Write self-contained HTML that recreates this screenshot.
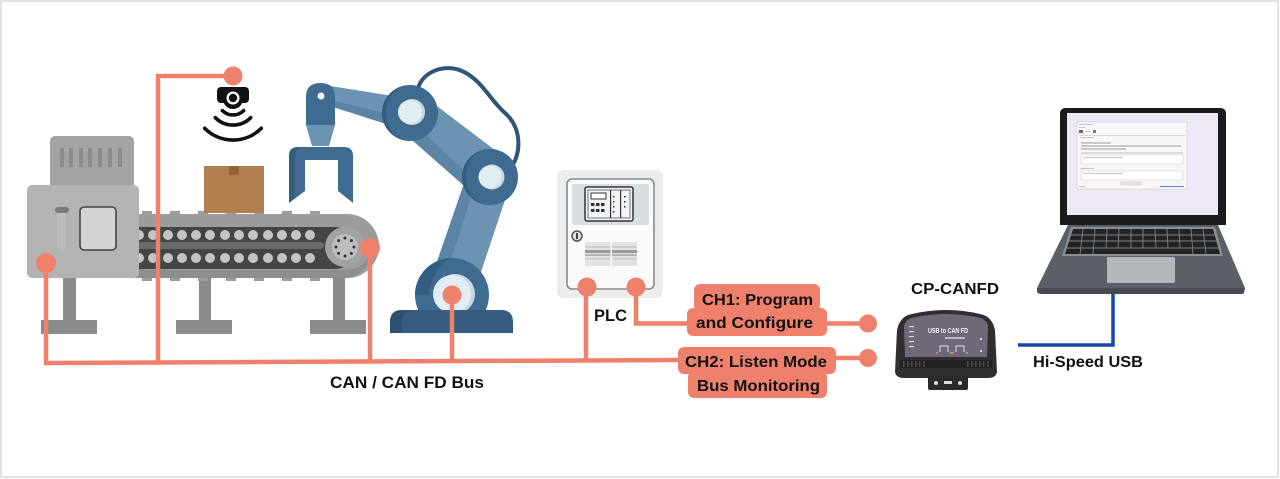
<!DOCTYPE html>
<html>
<head>
<meta charset="utf-8">
<style>
  html,body{margin:0;padding:0;background:#fff;}
  body{width:1280px;height:479px;overflow:hidden;}
  svg{display:block;}
  text{font-family:"Liberation Sans",sans-serif;font-weight:bold;fill:#111;}
</style>
</head>
<body>
<svg width="1280" height="479" viewBox="0 0 1280 479" xmlns="http://www.w3.org/2000/svg">
  <!-- frame -->
  <rect x="1" y="1" width="1277" height="476" fill="#fff" stroke="#e2e2e2" stroke-width="2"/>

  <!-- ============ CONVEYOR MACHINE ============ -->
  <!-- legs -->
  <g fill="#8b8b8b">
    <rect x="63" y="276" width="13" height="46"/>
    <rect x="41" y="320" width="56" height="14"/>
    <rect x="199" y="276" width="12" height="46"/>
    <rect x="176" y="320" width="56" height="14"/>
    <rect x="333" y="276" width="12" height="46"/>
    <rect x="310" y="320" width="56" height="14"/>
  </g>
  <!-- top vent box -->
  <rect x="50" y="136" width="84" height="55" rx="5" fill="#a3a3a3"/>
  <g fill="#8c8c8c">
    <rect x="60" y="148" width="4" height="19"/>
    <rect x="69" y="148" width="4" height="19"/>
    <rect x="79" y="148" width="4" height="19"/>
    <rect x="88" y="148" width="4" height="19"/>
    <rect x="98" y="148" width="4" height="19"/>
    <rect x="108" y="148" width="4" height="19"/>
    <rect x="118" y="148" width="4" height="19"/>
  </g>
  <!-- belt -->
  <path d="M136 214 L347 214 A32 32 0 0 1 347 278 L136 278 Z" fill="#9c9c9c"/>
  <g fill="#9c9c9c">
    <rect x="142" y="211" width="10" height="4"/><rect x="170" y="211" width="10" height="4"/>
    <rect x="198" y="211" width="10" height="4"/><rect x="226" y="211" width="10" height="4"/>
    <rect x="254" y="211" width="10" height="4"/><rect x="282" y="211" width="10" height="4"/>
    <rect x="310" y="211" width="10" height="4"/>
    <rect x="142" y="277" width="10" height="4"/><rect x="170" y="277" width="10" height="4"/>
    <rect x="198" y="277" width="10" height="4"/><rect x="226" y="277" width="10" height="4"/>
    <rect x="254" y="277" width="10" height="4"/><rect x="282" y="277" width="10" height="4"/>
    <rect x="310" y="277" width="10" height="4"/>
  </g>
  <path d="M136 270 L347 270 A24 24 0 0 0 371 246 L371 250 A28 28 0 0 1 347 278 L136 278 Z" fill="#8e8e8e"/>
  <path d="M136 227 L335 227 A21 21 0 0 1 335 269 L136 269 Z" fill="#454545"/>
  <rect x="136" y="242" width="188" height="7" rx="3.5" fill="#6b6b6b"/>
  <g fill="#c4c4c4">
    <circle cx="139" cy="235" r="5"/><circle cx="153" cy="235" r="5"/><circle cx="168" cy="235" r="5"/>
    <circle cx="182" cy="235" r="5"/><circle cx="196" cy="235" r="5"/><circle cx="210" cy="235" r="5"/>
    <circle cx="225" cy="235" r="5"/><circle cx="239" cy="235" r="5"/><circle cx="253" cy="235" r="5"/>
    <circle cx="268" cy="235" r="5"/><circle cx="282" cy="235" r="5"/><circle cx="296" cy="235" r="5"/>
    <circle cx="310" cy="235" r="5"/>
    <circle cx="139" cy="258" r="5"/><circle cx="153" cy="258" r="5"/><circle cx="168" cy="258" r="5"/>
    <circle cx="182" cy="258" r="5"/><circle cx="196" cy="258" r="5"/><circle cx="210" cy="258" r="5"/>
    <circle cx="225" cy="258" r="5"/><circle cx="239" cy="258" r="5"/><circle cx="253" cy="258" r="5"/>
    <circle cx="268" cy="258" r="5"/><circle cx="282" cy="258" r="5"/><circle cx="296" cy="258" r="5"/>
    <circle cx="310" cy="258" r="5"/>
  </g>
  <circle cx="345" cy="247" r="20" fill="#a2a2a2"/>
  <circle cx="345" cy="247" r="13" fill="#bdbdbd"/>
  <g fill="#333">
    <circle cx="345" cy="238" r="1.5"/><circle cx="351.4" cy="240.6" r="1.5"/><circle cx="354" cy="247" r="1.5"/>
    <circle cx="351.4" cy="253.4" r="1.5"/><circle cx="345" cy="256" r="1.5"/><circle cx="338.6" cy="253.4" r="1.5"/>
    <circle cx="336" cy="247" r="1.5"/><circle cx="338.6" cy="240.6" r="1.5"/>
  </g>
  <!-- main box -->
  <rect x="27" y="185" width="112" height="93" rx="5" fill="#b3b3b3"/>
  <rect x="57" y="209" width="9" height="40" rx="4" fill="#bcbcbc"/>
  <rect x="55" y="207" width="14" height="6" rx="3" fill="#7a7a7a"/>
  <rect x="80" y="207" width="36" height="43" rx="4" fill="#d3d3d3" stroke="#444" stroke-width="1.6"/>

  <!-- cardboard box -->
  <rect x="204" y="166" width="60" height="47" fill="#b17e50"/>
  <rect x="229" y="166" width="10" height="9" fill="#946238"/>

  <!-- sensor icon -->
  <rect x="217" y="87" width="32" height="16" rx="4" fill="#111"/>
  <circle cx="233" cy="99" r="10" fill="#111"/>
  <circle cx="233" cy="98" r="6.5" fill="#fff"/>
  <circle cx="233" cy="98" r="4.2" fill="#111"/>
  <g fill="none" stroke="#111" stroke-width="3.6" stroke-linecap="round">
    <path d="M222.4 110.6 A15 15 0 0 0 243.6 110.6"/>
    <path d="M215.3 117.7 A25 25 0 0 0 250.7 117.7"/>
    <path d="M204.7 128.3 A40 40 0 0 0 261.3 128.3"/>
  </g>

  <!-- ============ ROBOT ARM ============ -->
  <!-- cable -->
  <path d="M418 88 C424 70 446 64 462 71 C482 80 490 100 505 113 C522 128 521 152 512 166" fill="none" stroke="#2f5577" stroke-width="4"/>
  <!-- upper arm (wrist to shoulder) -->
  <polygon points="318,84 405,98 405,130 330,106" fill="#6b93b2"/>
  <polygon points="330,100 405,118 405,130 330,106" fill="#5b84a5"/>
  <!-- shoulder to elbow -->
  <polygon points="395,125 425,97 508,160 478,198" fill="#6b93b2"/>
  <polygon points="395,125 405,115 485,190 478,198" fill="#5b84a5"/>
  <!-- elbow to base -->
  <polygon points="468,172 510,185 475,290 430,282" fill="#6b93b2"/>
  <polygon points="468,172 478,175 443,285 430,282" fill="#5b84a5"/>
  <!-- joints -->
  <circle cx="410" cy="113" r="28" fill="#3e6b8f"/>
  <path d="M410 85 A28 28 0 0 0 410 141 A24 28 0 0 1 410 85 Z" fill="#345e80"/>
  <circle cx="412" cy="112" r="13" fill="#c9d8e2"/>
  <circle cx="410" cy="112" r="12" fill="#e2edf3"/>
  <circle cx="490" cy="177" r="28" fill="#3e6b8f"/>
  <path d="M490 149 A28 28 0 0 0 490 205 A24 28 0 0 1 490 149 Z" fill="#345e80"/>
  <circle cx="492" cy="177" r="12.5" fill="#c9d8e2"/>
  <circle cx="490" cy="177" r="11.5" fill="#e2edf3"/>
  <!-- base -->
  <circle cx="452" cy="295" r="37" fill="#3e6b8f"/>
  <path d="M452 258 A37 37 0 0 0 415 295 L430 295 A30 37 0 0 1 452 258 Z" fill="#345e80"/>
  <circle cx="455" cy="294" r="20" fill="#c9d8e2"/>
  <circle cx="452" cy="294" r="19" fill="#e2edf3"/>
  <path d="M390 333 L390 322 Q390 310 402 310 L501 310 Q513 310 513 322 L513 333 Z" fill="#365d80"/>
  <path d="M390 333 L390 322 Q390 310 402 310 L412 310 Q402 312 402 322 L402 333 Z" fill="#2d5172"/>
  <!-- wrist -->
  <path d="M306 125 L306 97 Q306 83 320.5 83 Q335 83 335 97 L335 125 Z" fill="#3e6b8f"/>
  <circle cx="321" cy="96" r="3.5" fill="#f2f6f9"/>
  <polygon points="306,125 335,125 329,146 312,146" fill="#6b93b2"/>
  <!-- gripper -->
  <path d="M289 203 L289 156 Q289 147 298 147 L344 147 Q353 147 353 156 L353 203 L338 191 L338 160 L305 160 L305 191 Z" fill="#3e6b8f"/>
  <path d="M289 203 L289 156 Q289 147 298 147 L302 147 Q295 149 295 157 L295 198 Z" fill="#345e80"/>

  <!-- ============ PLC ============ -->
  <rect x="557" y="170" width="106" height="128" rx="7" fill="#ececec"/>
  <rect x="567" y="179" width="87" height="110" rx="5" fill="#fafafa" stroke="#8a8a8a" stroke-width="1.6"/>
  <rect x="572" y="184" width="77" height="41" rx="2" fill="#d9dee3"/>
  <rect x="585" y="187" width="48" height="34" rx="2" fill="#f4f4f4" stroke="#333" stroke-width="1.5"/>
  <rect x="588" y="190" width="42" height="28" fill="none" stroke="#555" stroke-width="0.8"/>
  <rect x="591" y="193" width="15" height="6" fill="#fff" stroke="#333" stroke-width="1"/>
  <g fill="#333">
    <rect x="591" y="203" width="3.5" height="3"/><rect x="596" y="203" width="3.5" height="3"/><rect x="601" y="203" width="3.5" height="3"/>
    <rect x="591" y="209" width="3.5" height="3"/><rect x="596" y="209" width="3.5" height="3"/><rect x="601" y="209" width="3.5" height="3"/>
    <rect x="610" y="190" width="1.2" height="28"/><rect x="620" y="190" width="1.2" height="28"/>
    <rect x="613" y="196" width="1.5" height="1.5"/><rect x="613" y="201" width="1.5" height="1.5"/><rect x="613" y="206" width="1.5" height="1.5"/><rect x="613" y="211" width="1.5" height="1.5"/>
    <rect x="624" y="196" width="1.5" height="1.5"/><rect x="624" y="201" width="1.5" height="1.5"/><rect x="624" y="206" width="1.5" height="1.5"/>
  </g>
  <circle cx="577" cy="236" r="5" fill="#e0e0e0" stroke="#555" stroke-width="1.5"/>
  <rect x="576" y="233" width="2" height="6" fill="#444"/>
  <rect x="585" y="242" width="52" height="24" fill="#e3e3e3"/>
  <rect x="585" y="250" width="52" height="3" fill="#9a9a9a"/>
  <rect x="585" y="254" width="52" height="2" fill="#b5b5b5"/>
  <rect x="585" y="258" width="52" height="1.5" fill="#c8c8c8"/>
  <rect x="585" y="246" width="52" height="2" fill="#cdcdcd"/>
  <rect x="610.5" y="242" width="1.5" height="24" fill="#fff"/>

  <!-- ============ SALMON WIRING ============ -->
  <g fill="none" stroke="#ef806c" stroke-width="4.5" stroke-linejoin="miter">
    <polyline points="46,263 46,363 680,360"/>
    <polyline points="233,76 158,76 158,363"/>
    <line x1="370" y1="248" x2="370" y2="363"/>
    <line x1="452" y1="295" x2="452" y2="362"/>
    <line x1="586" y1="287" x2="586" y2="361"/>
    <polyline points="636,287 636,323.5 868,323.5"/>
    <line x1="830" y1="358" x2="868" y2="358"/>
  </g>
  <g fill="#ef806c">
    <circle cx="233" cy="76" r="9.5"/>
    <circle cx="46" cy="263" r="10"/>
    <circle cx="370" cy="248" r="10"/>
    <circle cx="452" cy="295" r="9.5"/>
    <circle cx="587" cy="287" r="9.5"/>
    <circle cx="636" cy="287" r="9.5"/>
    <circle cx="868" cy="323.5" r="9"/>
    <circle cx="868" cy="358" r="9"/>
    <!-- label boxes -->
    <rect x="694" y="284" width="126" height="27" rx="6"/>
    <rect x="687" y="308" width="140" height="28" rx="6"/>
    <rect x="678" y="347" width="158" height="27" rx="6"/>
    <rect x="688" y="371" width="139" height="27" rx="6"/>
  </g>
  <text x="702" y="305" font-size="16" textLength="111" lengthAdjust="spacingAndGlyphs">CH1: Program</text>
  <text x="696" y="328" font-size="16" textLength="117" lengthAdjust="spacingAndGlyphs">and Configure</text>
  <text x="685" y="367" font-size="16" textLength="142" lengthAdjust="spacingAndGlyphs">CH2: Listen Mode</text>
  <text x="697" y="391" font-size="16" textLength="123" lengthAdjust="spacingAndGlyphs">Bus Monitoring</text>

  <text x="594" y="321" font-size="17" textLength="33" lengthAdjust="spacingAndGlyphs">PLC</text>
  <text x="330" y="388" font-size="16.5" textLength="154" lengthAdjust="spacingAndGlyphs">CAN / CAN FD Bus</text>
  <text x="911" y="294" font-size="16" textLength="88" lengthAdjust="spacingAndGlyphs">CP-CANFD</text>
  <text x="1033" y="367" font-size="16" textLength="110" lengthAdjust="spacingAndGlyphs">Hi-Speed USB</text>

  <!-- ============ CP-CANFD DEVICE ============ -->
  <path d="M897 330 Q900 316 912 314 Q946 306 980 314 Q992 316 995 330 L997 372 Q996 378 988 378 L904 378 Q896 378 895 372 Z" fill="#2f2f2f"/>
  <path d="M904 326 Q906 318 916 317 Q946 311 976 317 Q986 318 988 326 L987 357 L905 357 Z" fill="#6f6878"/>
  <text x="928" y="333" font-size="7.5" style="fill:#f2f2f2" textLength="40" lengthAdjust="spacingAndGlyphs">USB to CAN FD</text>
  <rect x="945" y="337" width="20" height="2" fill="#bdb8c4"/>
  <g fill="none" stroke="#e0dce4" stroke-width="1">
    <path d="M940 352 L940 346 L948 346 L948 352"/>
    <path d="M956 352 L956 346 L964 346 L964 352"/>
  </g>
  <g fill="#d9d4df">
    <rect x="909" y="326" width="5" height="1.2"/><rect x="909" y="331" width="5" height="1.2"/>
    <rect x="909" y="336" width="5" height="1.2"/><rect x="909" y="341" width="5" height="1.2"/>
    <rect x="909" y="346" width="5" height="1.2"/><rect x="980" y="338" width="2" height="2"/>
    <rect x="980" y="350" width="2" height="2"/>
  </g>
  <circle cx="937" cy="353" r="1.2" fill="#e67f5a"/><circle cx="951" cy="353" r="1.2" fill="#7fbf5a"/>
  <circle cx="953" cy="353" r="1.2" fill="#e67f5a"/><circle cx="967" cy="353" r="1.2" fill="#7fbf5a"/>
  <rect x="900" y="360" width="92" height="8" fill="#222"/>
  <g fill="#4a4a4a">
    <rect x="903" y="361" width="1.5" height="6"/><rect x="907" y="361" width="1.5" height="6"/><rect x="911" y="361" width="1.5" height="6"/>
    <rect x="915" y="361" width="1.5" height="6"/><rect x="919" y="361" width="1.5" height="6"/><rect x="923" y="361" width="1.5" height="6"/>
    <rect x="967" y="361" width="1.5" height="6"/><rect x="971" y="361" width="1.5" height="6"/><rect x="975" y="361" width="1.5" height="6"/>
    <rect x="979" y="361" width="1.5" height="6"/><rect x="983" y="361" width="1.5" height="6"/><rect x="987" y="361" width="1.5" height="6"/>
  </g>
  <rect x="928" y="376" width="40" height="14" rx="2" fill="#2a2a2a"/>
  <circle cx="936" cy="383" r="2" fill="#ddd"/><circle cx="960" cy="383" r="2" fill="#ddd"/>
  <rect x="944" y="381" width="8" height="3" fill="#ddd"/>

  <!-- ============ USB LINE ============ -->
  <polyline points="1113,294 1113,345 1018,345" fill="none" stroke="#1646b0" stroke-width="3.5"/>

  <!-- ============ LAPTOP ============ -->
  <path d="M1060 225 L1060 114 Q1060 108 1066 108 L1220 108 Q1226 108 1226 114 L1226 225 Z" fill="#1a1a1a"/>
  <rect x="1067" y="113" width="151" height="102" fill="#ede8f3"/>
  <!-- app window -->
  <rect x="1077" y="122" width="110" height="67" fill="#f7f7f7" stroke="#cfcfcf" stroke-width="0.6"/>
  <g fill="#c8c8c8">
    <rect x="1079" y="124" width="14" height="1"/>
    <rect x="1079" y="127" width="6" height="1"/>
    <rect x="1079" y="130" width="4" height="3" fill="#666"/>
    <rect x="1085" y="131" width="6" height="1"/>
    <rect x="1093" y="130" width="3" height="3" fill="#777"/>
    <rect x="1079" y="135" width="106" height="0.6"/>
    <rect x="1080" y="137" width="14" height="1"/>
    <rect x="1081" y="142" width="30" height="2"/>
    <rect x="1081" y="145" width="100" height="2"/>
    <rect x="1081" y="148" width="45" height="2"/>
    <rect x="1081" y="152" width="102" height="2" fill="#dcdcdc"/>
    <rect x="1081" y="155" width="102" height="9" fill="#fff" stroke="#ccc" stroke-width="0.5"/>
    <rect x="1083" y="157" width="40" height="1"/>
    <rect x="1080" y="168" width="14" height="1"/>
    <rect x="1081" y="171" width="102" height="9" fill="#fff" stroke="#ccc" stroke-width="0.5"/>
    <rect x="1083" y="173" width="40" height="1"/>
    <rect x="1121" y="182" width="20" height="3" fill="#e6e6e6" stroke="#bbb" stroke-width="0.4"/>
    <rect x="1079" y="186" width="6" height="1"/>
    <rect x="1160" y="186" width="24" height="1" fill="#5b7fd6"/>
  </g>
  <!-- base deck -->
  <path d="M1068 225 L1218 225 L1245 288 L1037 288 Z" fill="#5a6065"/>
  <path d="M1037 288 L1245 288 L1244 293 Q1243 294 1240 294 L1042 294 Q1038 294 1037 292 Z" fill="#464b4f"/>
  <!-- keyboard -->
  <path d="M1071 227 L1215 227 L1223 256 L1062 256 Z" fill="#8a8f93"/>
  <path d="M1073 229 L1213 229 L1220 254 L1065 254 Z" fill="#232323"/>
  <g stroke="#7e8387" stroke-width="0.9">
    <line x1="1071" y1="235" x2="1215" y2="235"/>
    <line x1="1069" y1="241" x2="1217" y2="241"/>
    <line x1="1067" y1="248" x2="1219" y2="248"/>
    <line x1="1083" y1="229" x2="1080" y2="254"/>
    <line x1="1095" y1="229" x2="1093" y2="254"/>
    <line x1="1107" y1="229" x2="1106" y2="248"/>
    <line x1="1119" y1="229" x2="1118" y2="248"/>
    <line x1="1131" y1="229" x2="1131" y2="248"/>
    <line x1="1143" y1="229" x2="1143" y2="248"/>
    <line x1="1155" y1="229" x2="1156" y2="248"/>
    <line x1="1167" y1="229" x2="1168" y2="248"/>
    <line x1="1179" y1="229" x2="1180" y2="248"/>
    <line x1="1191" y1="229" x2="1193" y2="254"/>
    <line x1="1203" y1="229" x2="1206" y2="254"/>
  </g>
  <rect x="1107" y="257" width="68" height="26" rx="1" fill="#b4b7b9"/>
</svg>
</body>
</html>
